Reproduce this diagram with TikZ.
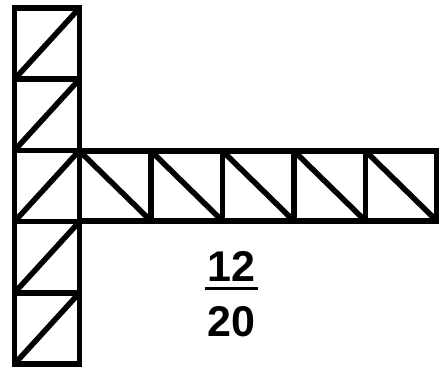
\documentclass[tikz,border=0pt]{standalone}
\usepackage{fontspec}
\setmainfont{Liberation Sans}

\begin{document}
\begin{tikzpicture}[x=1pt,y=-1pt,line width=5.5pt]
        \useasboundingbox (0,0) rectangle (439,368);
        % vertical column
        \foreach \top in {8,79.2,150.4,221.6,292.8} {
            \draw (14.5,\top) rectangle (79.5,\top+71.2);
            \draw (14.5,\top+71.2) -- (79.5,\top);
        }
        % horizontal row
        \foreach \left in {79.5,151,222.5,294,365.5} {
            \draw (\left,151) rectangle (\left+71.5,221);
            \draw (\left,151) -- (\left+71.5,221);
        }
        \node[font=\fontsize{43}{43}\bfseries] (num) at (231.5,266) {12};
        \node[font=\fontsize{43}{43}\bfseries] (den) at (231.5,321.5) {20};
        \draw[line width=3pt] (205,288.5) -- (258,288.5);
    \end{tikzpicture}
\end{document}
